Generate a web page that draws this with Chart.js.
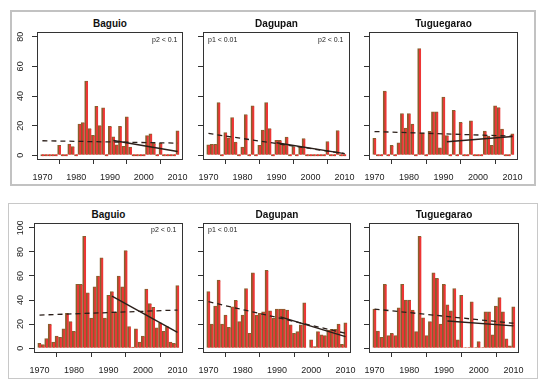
<!DOCTYPE html>
<html>
<head>
<meta charset="utf-8">
<script src="https://cdn.jsdelivr.net/npm/chart.js@4.4.1/dist/chart.umd.min.js"></script>
<style>
  body { margin: 0; background: #fff; font-family: "Liberation Sans", Arial, sans-serif; }
  #wrap { position: relative; width: 550px; height: 390px; overflow: hidden; }
  .frame { position: absolute; box-sizing: border-box; }
  .panel { position: absolute; }
  .title { position: absolute; font-weight: bold; font-size: 10px; color: #111; white-space: nowrap; transform: translate(-50%, -50%); }
  .note { position: absolute; font-size: 7px; color: #222; white-space: nowrap; transform: translateY(-50%); }
</style>
</head>
<body>
<div id="wrap">
  <div class="frame" style="left:10px;top:10px;width:526px;height:176px;border:2px solid #c2c2c2;"></div>
  <div class="frame" style="left:8px;top:203px;width:530px;height:176px;border:1px solid #c8c8c8;"></div>
</div>
<script>
// years 1970-2010
const years = [1970, 1971, 1972, 1973, 1974, 1975, 1976, 1977, 1978, 1979,
               1980, 1981, 1982, 1983, 1984, 1985, 1986, 1987, 1988, 1989,
               1990, 1991, 1992, 1993, 1994, 1995, 1996, 1997, 1998, 1999,
               2000, 2001, 2002, 2003, 2004, 2005, 2006, 2007, 2008, 2009,
               2010];
const xTicks = [1970, 1980, 1990, 2000, 2010];
const yTicksTop = [0, 20, 40, 60, 80];
const yTicksBottom = [0, 20, 40, 60, 80, 100];

// top row
const topBaguio = [0, 0, 0, 0, 0, 6.7, 0, 0, 7.5, 5.8,
                   0, 21, 22, 50, 18, 13.5, 33, 20, 32, 0,
                   19.5, 12.5, 7, 19.5, 6, 26, 5.5, 0, 0, 0,
                   0, 13.3, 14.5, 8, 0, 8, 0, 0, 0, 0,
                   16.5];
const topDagupan = [7, 7.3, 7.3, 35.5, 0, 15.3, 11.8, 25.5, 8.9, 0,
                    5.5, 27.5, 0, 33.3, 0, 6.7, 17, 35.5, 18, 0,
                    10, 10, 7.3, 12.2, 0, 5.8, 0, 5.8, 11.3, 0,
                    0, 0, 0, 0, 0, 9.3, 0, 0, 16.7, 0,
                    0];
const topTuguegarao = [11.5, 0, 0, 43.3, 0, 6.7, 0, 8.4, 28.2, 18.4,
                       28.2, 21, 0, 72, 15, 0, 16.2, 29.3, 29.3, 5,
                       39.3, 13.3, 0, 30.4, 0, 22.2, 0, 0, 23.3, 0,
                       0, 0, 16.4, 12.9, 6.7, 33.3, 32.2, 17.6, 0, 0,
                       14.4];

// bottom row
const botBaguio = [4, 3, 8, 20, 5, 10, 9, 16, 29, 22,
                   14, 53, 53, 93, 46, 25, 51, 60, 75, 25,
                   44, 47, 30, 60, 51, 81, 18, 1, 16, 5,
                   10, 49, 37, 34, 17, 21, 14, 18, 5, 4,
                   52];
const botDagupan = [47, 20, 35, 56.5, 20, 27.5, 17.4, 34.4, 39.7, 22,
                    27.5, 49.6, 12.4, 62.5, 27.5, 29, 30.3, 64.7, 31, 24.8,
                    32.5, 32.5, 32.5, 31.7, 19.3, 12.4, 13.8, 19.3, 37.7, 0,
                    6.9, 1.4, 13.8, 11, 10.5, 15, 15.7, 15.7, 20, 3.3,
                    21];
const botTuguegarao = [32.5, 14.3, 9, 53, 10.5, 12.4, 10.5, 33.6, 53, 40,
                       40, 31.7, 13.8, 93, 25.3, 10.5, 22, 62.5, 58, 20,
                       53, 36, 31, 49.6, 6.9, 44, 0.5, 0.5, 38.6, 0.5,
                       5.5, 0.5, 30.3, 30.3, 11, 35, 42, 30.3, 7.7, 2,
                       34.4];

// trend lines: [x0, x1] and [y0, y1]
const dashX = [1970, 2010];
const topBaguioDash = [9.8, 8.2],       topBaguioSolidX = [1991, 2010],     topBaguioSolid = [10, 2.5];
const topDagupanDash = [14.7, 1.1],     topDagupanSolidX = [1990, 2010],    topDagupanSolid = [8.4, 1.1];
const topTugDash = [16, 12.9],          topTugSolidX = [1991, 2010],        topTugSolid = [9.1, 12.7];
const botBaguioDash = [27.5, 31.7],     botBaguioSolidX = [1991, 2010],     botBaguioSolid = [43.3, 13.2];
const botDagupanDash = [38.6, 12.4],    botDagupanSolidX = [1991, 2010],    botDagupanSolid = [26, 9.6];
const botTugDash = [32.5, 20.7],        botTugSolidX = [1991, 2010],        botTugSolid = [22.6, 18.5];

const PAD_L = 30, PAD_T = 2, PAD_R = 10, PAD_B = 30;
const wrap = document.getElementById('wrap');

const frame = {
  id: 'frame',
  afterDraw(chart) {
    const { ctx, chartArea: a } = chart;
    ctx.save();
    ctx.strokeStyle = '#333';
    ctx.lineWidth = 1;
    ctx.strokeRect(Math.round(a.left) + 0.5, Math.round(a.top) + 0.5,
                   Math.round(a.right - a.left) - 1, Math.round(a.bottom - a.top) - 1);
    ctx.restore();
  }
};

const yLabels = {
  id: 'yLabels',
  afterDraw(chart, args, opts) {
    if (!opts.show) return;
    const { ctx, chartArea: a } = chart;
    const y = chart.scales.y;
    ctx.save();
    ctx.fillStyle = '#222';
    ctx.font = '9px "Liberation Sans", Arial, sans-serif';
    ctx.textAlign = 'center';
    ctx.textBaseline = 'middle';
    y.ticks.forEach(t => {
      ctx.save();
      ctx.translate(a.left - opts.offset, y.getPixelForValue(t.value));
      ctx.rotate(-Math.PI / 2);
      ctx.fillText(String(t.value), 0, 0);
      ctx.restore();
    });
    ctx.restore();
  }
};

function pts(xs, ys) {
  return xs.map((x, i) => ({ x: x, y: ys[i] }));
}

function addText(cls, text, x, y) {
  const d = document.createElement('div');
  d.className = cls;
  d.textContent = text;
  d.style.left = x + 'px';
  d.style.top = y + 'px';
  wrap.appendChild(d);
}

function makePanel(p) {
  const w = p.r - p.l + PAD_L + PAD_R;
  const h = p.b - p.t + PAD_T + PAD_B;
  const div = document.createElement('div');
  div.className = 'panel';
  div.style.left = (p.l - PAD_L) + 'px';
  div.style.top = (p.t - PAD_T) + 'px';
  const canvas = document.createElement('canvas');
  canvas.width = w;
  canvas.height = h;
  canvas.style.width = w + 'px';
  canvas.style.height = h + 'px';
  div.appendChild(canvas);
  wrap.appendChild(div);

  addText('title', p.title, (p.l + p.r) / 2, p.titleY);
  (p.notes || []).forEach(n => addText('note', n[0], n[1], n[2]));

  const yMax = p.yTicks[p.yTicks.length - 1];
  new Chart(canvas, {
    type: 'bar',
    data: {
      datasets: [
        {
          type: 'line',
          data: pts(dashX, p.dash),
          borderColor: '#2b1f1a',
          borderWidth: 1.3,
          borderDash: [5, 4],
          pointRadius: 0,
          order: 0
        },
        {
          type: 'line',
          data: pts(p.solidX, p.solid),
          borderColor: '#2b1f1a',
          borderWidth: 1.4,
          pointRadius: 0,
          order: 0
        },
        {
          type: 'bar',
          data: pts(years, p.values),
          backgroundColor: '#ee3535',
          borderColor: '#86602f',
          borderWidth: { left: 2, top: 1, right: 0, bottom: 0 },
          barPercentage: 1,
          categoryPercentage: 1,
          minBarLength: p.minBar,
          order: 2
        }
      ]
    },
    options: {
      responsive: false,
      animation: false,
      layout: { padding: { left: 0, top: PAD_T, right: PAD_R, bottom: 0 } },
      plugins: {
        legend: { display: false },
        tooltip: { enabled: false },
        yLabels: { show: p.showY, offset: p.yOffset }
      },
      scales: {
        x: {
          type: 'linear',
          min: 1968.4,
          max: 2011.6,
          offset: false,
          afterBuildTicks: s => { s.ticks = xTicks.map(v => ({ value: v })); },
          afterFit: s => { s.height = PAD_B; s.paddingLeft = 0; s.paddingRight = 0; },
          grid: { drawOnChartArea: false, drawTicks: true, tickLength: 4, color: '#333' },
          border: { display: false },
          ticks: {
            color: '#222',
            font: { family: '"Liberation Sans", Arial, sans-serif', size: 9 },
            padding: 8,
            maxRotation: 0,
            autoSkip: false,
            callback: v => String(v)
          }
        },
        y: {
          min: -yMax * 0.04,
          max: yMax * 1.04,
          afterBuildTicks: s => { s.ticks = p.yTicks.map(v => ({ value: v })); },
          afterFit: s => { s.width = PAD_L; },
          grid: { drawOnChartArea: false, drawTicks: true, tickLength: 5, color: '#333' },
          border: { display: false },
          ticks: { display: false }
        }
      }
    },
    plugins: [frame, yLabels]
  });
}

const panels = [
  { title: 'Baguio', values: topBaguio, dash: topBaguioDash, solidX: topBaguioSolidX, solid: topBaguioSolid,
    l: 37, t: 32, r: 183, b: 160, titleY: 23, yTicks: yTicksTop, showY: true, yOffset: 16, minBar: 2,
    notes: [['p2 < 0.1', 152, 39]] },
  { title: 'Dagupan', values: topDagupan, dash: topDagupanDash, solidX: topDagupanSolidX, solid: topDagupanSolid,
    l: 203, t: 32, r: 350, b: 160, titleY: 23, yTicks: yTicksTop, showY: false, yOffset: 16, minBar: 2,
    notes: [['p1 < 0.01', 208, 39], ['p2 < 0.1', 318, 39]] },
  { title: 'Tuguegarao', values: topTuguegarao, dash: topTugDash, solidX: topTugSolidX, solid: topTugSolid,
    l: 369, t: 32, r: 518, b: 160, titleY: 23, yTicks: yTicksTop, showY: false, yOffset: 16, minBar: 2,
    notes: [] },
  { title: 'Baguio', values: botBaguio, dash: botBaguioDash, solidX: botBaguioSolidX, solid: botBaguioSolid,
    l: 34, t: 223, r: 183, b: 353, titleY: 214, yTicks: yTicksBottom, showY: true, yOffset: 13.5, minBar: 0,
    notes: [['p2 < 0.1', 151, 229]] },
  { title: 'Dagupan', values: botDagupan, dash: botDagupanDash, solidX: botDagupanSolidX, solid: botDagupanSolid,
    l: 203, t: 223, r: 351, b: 353, titleY: 214, yTicks: yTicksBottom, showY: false, yOffset: 13.5, minBar: 0,
    notes: [['p1 < 0.01', 208, 229]] },
  { title: 'Tuguegarao', values: botTuguegarao, dash: botTugDash, solidX: botTugSolidX, solid: botTugSolid,
    l: 369, t: 223, r: 519, b: 353, titleY: 214, yTicks: yTicksBottom, showY: false, yOffset: 13.5, minBar: 0,
    notes: [] }
];

panels.forEach(makePanel);
</script>
</body>
</html>
